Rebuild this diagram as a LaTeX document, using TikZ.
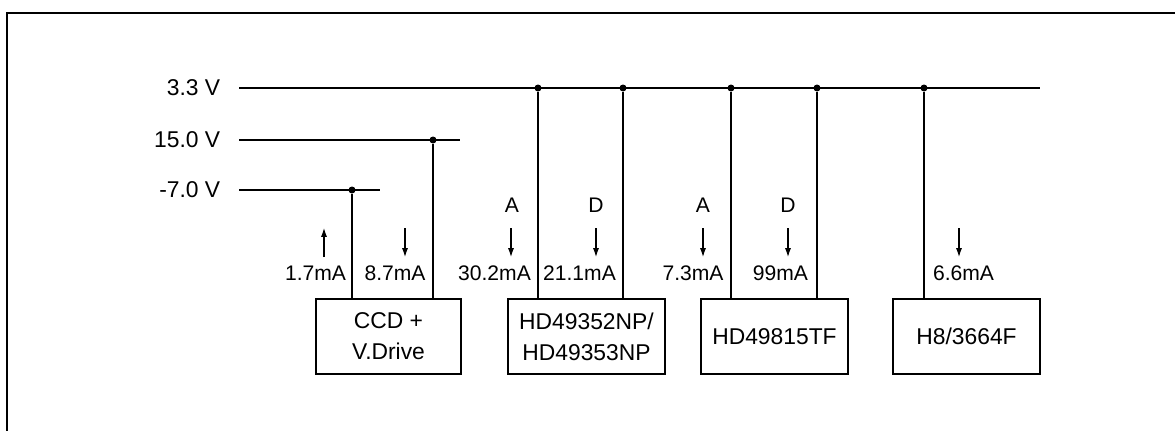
\documentclass[tikz,border=0pt]{standalone}
\usepackage{fontspec}
\setmainfont{Liberation Sans}
\usetikzlibrary{arrows.meta}

\begin{document}
\begin{tikzpicture}[x=0.02cm,y=-0.02cm,line width=0.9pt,
  chip/.style={shape=rectangle,draw=black,minimum height=1.5cm,inner sep=0pt,align=center,font=\fontsize{13}{17.6}\selectfont},
  volt/.style={anchor=east,inner sep=0pt,font=\fontsize{13}{15}\selectfont},
  cur/.style={inner sep=0pt,font=\fontsize{12}{14}\selectfont},
  tap/.style={circle,fill=black,inner sep=0pt,minimum size=0.14cm},
  flow/.style={-{Latex[length=5pt,width=3.4pt]},line width=0.6pt}]
\useasboundingbox (0,0) rectangle (1175,430);
\begin{scope}
\clip (0,0) rectangle (1175,430);
\draw[line width=1.7pt] (7,13) rectangle (1260,520);
\end{scope}

% supplies
\node[volt] (l33) at (221,88){3.3 V};
\node[volt] (l15) at (221,140){15.0 V};
\node[volt] (l7) at (221,190){-7.0 V};
\coordinate (b33s) at (239,88); \coordinate (b33e) at (1040,88);
\coordinate (b15s) at (239,140); \coordinate (b15e) at (460,140);
\coordinate (b7s) at (239,190); \coordinate (b7e) at (380,190);
\path [-] (b33s) edge (b33e);
\path [-] (b15s) edge (b15e);
\path [-] (b7s) edge (b7e);

% blocks
\node[chip,minimum width=2.9cm] (ccd) at (388.5,336.5){CCD +\\V.Drive};
\node[chip,minimum width=3.14cm] (afe) at (586.5,336.5){HD49352NP/\\HD49353NP};
\node[chip,minimum width=2.94cm] (dsp) at (774.5,336.5){HD49815TF};
\node[chip,minimum width=2.94cm] (mcu) at (966.5,336.5){H8/3664F};

% taps
\node[tap] (t1) at (352,190){};
\node[tap] (t2) at (433,140){};
\node[tap] (t3) at (538,88){};
\node[tap] (t4) at (623,88){};
\node[tap] (t5) at (731,88){};
\node[tap] (t6) at (817,88){};
\node[tap] (t7) at (924,88){};
\path [-] (t1) edge (t1 |- ccd.north); \path [-] (t2) edge (t2 |- ccd.north);
\path [-] (t3) edge (t3 |- afe.north); \path [-] (t4) edge (t4 |- afe.north);
\path [-] (t5) edge (t5 |- dsp.north); \path [-] (t6) edge (t6 |- dsp.north);
\path [-] (t7) edge (t7 |- mcu.north);

% analog / digital
\node[cur] (a1) at (512,205){A};
\node[cur] (d1) at (596,205){D};
\node[cur] (a2) at (703,205){A};
\node[cur] (d2) at (788,205){D};

% currents
\node[cur] (i1) at (315.5,273){1.7mA};
\node[cur] (i2) at (395,273){8.7mA};
\node[cur] (i3) at (494.5,273){30.2mA};
\node[cur] (i4) at (579.5,273){21.1mA};
\node[cur] (i5) at (693,273){7.3mA};
\node[cur] (i6) at (780.5,273){99mA};
\node[cur] (i7) at (963.5,273){6.6mA};
\coordinate (f1a) at (324,257); \coordinate (f1b) at (324,228);
\coordinate (f2a) at (405,228); \coordinate (f2b) at (405,257);
\coordinate (f3a) at (511,228); \coordinate (f3b) at (511,257);
\coordinate (f4a) at (596,228); \coordinate (f4b) at (596,257);
\coordinate (f5a) at (703,228); \coordinate (f5b) at (703,257);
\coordinate (f6a) at (788,228); \coordinate (f6b) at (788,257);
\coordinate (f7a) at (959,228); \coordinate (f7b) at (959,257);
\draw[flow] (f1a) -- (f1b); \draw[flow] (f2a) -- (f2b);
\draw[flow] (f3a) -- (f3b); \draw[flow] (f4a) -- (f4b);
\draw[flow] (f5a) -- (f5b); \draw[flow] (f6a) -- (f6b);
\draw[flow] (f7a) -- (f7b);
\end{tikzpicture}
\end{document}
